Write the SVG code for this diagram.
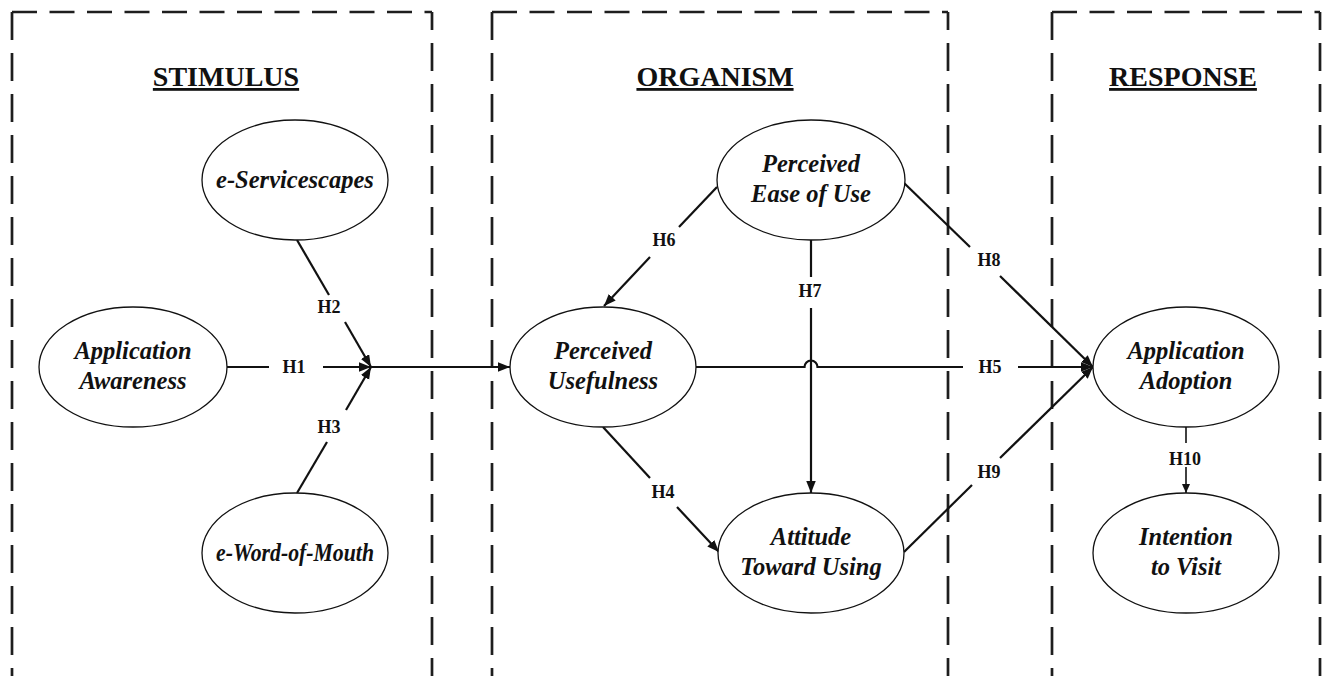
<svg xmlns="http://www.w3.org/2000/svg" width="1328" height="676" viewBox="0 0 1328 676">
  <style>
    .frame-h { stroke: #1e1e1e; stroke-width: 2.7; stroke-dasharray: 25 12.5; fill: none; }
    .frame-v { stroke: #1e1e1e; stroke-width: 2.7; stroke-dasharray: 28 13; fill: none; }
    .title { font-family: "Liberation Serif", "Times New Roman", serif; font-weight: bold; font-size: 28px; text-anchor: middle; text-decoration: underline; fill: #111; }
    .node ellipse { fill: #fff; stroke: #111; stroke-width: 1.3; }
    .node text { font-family: "Liberation Serif", "Times New Roman", serif; font-weight: bold; font-style: italic; font-size: 24.5px; text-anchor: middle; fill: #111; }
    .edge { stroke: #111; stroke-width: 2.2; fill: none; }
    .edge-thin { stroke: #111; stroke-width: 1.6; fill: none; }
    .lbl { font-family: "Liberation Serif", "Times New Roman", serif; font-weight: bold; font-size: 18px; text-anchor: middle; fill: #111; }
  </style>
  <defs>
    <marker id="arrow" markerUnits="userSpaceOnUse" markerWidth="13" markerHeight="10" refX="12" refY="4.75" orient="auto">
      <path d="M0,0 L12,4.75 L0,9.5 Z" fill="#111"/>
    </marker>
    <marker id="arrow-sm" markerUnits="userSpaceOnUse" markerWidth="10" markerHeight="9" refX="9" refY="4" orient="auto">
      <path d="M0,0 L9,4 L0,8 Z" fill="#111"/>
    </marker>
  </defs>

  <rect width="1328" height="676" fill="#fff"/>

  <!-- Dashed stage frames (open at the bottom) -->
  <g id="frame-stimulus">
    <path class="frame-h" d="M12,12 H432"/>
    <path class="frame-v" d="M12,12 V676"/>
    <path class="frame-v" d="M432,12 V676" style="stroke-dashoffset:10"/>
    <text class="title" x="226" y="86">STIMULUS</text>
  </g>
  <g id="frame-organism">
    <path class="frame-h" d="M492,12 H948"/>
    <path class="frame-v" d="M492,12 V676"/>
    <path class="frame-v" d="M948,12 V676" style="stroke-dashoffset:10"/>
    <text class="title" x="715" y="86">ORGANISM</text>
  </g>
  <g id="frame-response">
    <path class="frame-h" d="M1052,12 H1320"/>
    <path class="frame-v" d="M1052,12 V676"/>
    <path class="frame-v" d="M1320,12 V676" style="stroke-dashoffset:10"/>
    <text class="title" x="1183" y="86">RESPONSE</text>
  </g>

  <!-- Connectors -->
  <g id="connectors">
    <!-- H1 -->
    <path class="edge" d="M226,367 H269"/>
    <path class="edge" d="M323,367 H371" marker-end="url(#arrow)"/>
    <!-- H2 -->
    <path class="edge" d="M297,240 L329,295"/>
    <path class="edge" d="M345,322 L371,367" marker-end="url(#arrow)"/>
    <!-- H3 -->
    <path class="edge" d="M297,493 L327,442"/>
    <path class="edge" d="M346,410 L371,367" marker-end="url(#arrow)"/>
    <!-- joint path into Perceived Usefulness -->
    <path class="edge" d="M371,367 H510" marker-end="url(#arrow)"/>
    <!-- H6 -->
    <path class="edge" d="M717,187 L679,227"/>
    <path class="edge" d="M650,257 L604,306" marker-end="url(#arrow)"/>
    <!-- H4 -->
    <path class="edge" d="M603,427 L650,478"/>
    <path class="edge" d="M677,507 L719,552" marker-end="url(#arrow)"/>
    <!-- H7 -->
    <path class="edge" d="M811,240 V277"/>
    <path class="edge" d="M811,308 V493" marker-end="url(#arrow)"/>
    <!-- H5, hopping over H7 -->
    <path class="edge" d="M696,367 H804.5 A6.5,6.5 0 0 1 817.5,367 H963"/>
    <path class="edge" d="M1018,367 H1093" marker-end="url(#arrow)"/>
    <!-- H8 -->
    <path class="edge" d="M903,182 L970,247"/>
    <path class="edge" d="M1000,276 L1093,367" marker-end="url(#arrow)"/>
    <!-- H9 -->
    <path class="edge" d="M904,552 L972,485"/>
    <path class="edge" d="M1000,458 L1093,367" marker-end="url(#arrow)"/>
    <!-- H10 -->
    <path class="edge-thin" d="M1186,427 V443"/>
    <path class="edge-thin" d="M1186,467 V493" marker-end="url(#arrow-sm)"/>

    <text class="lbl" x="294" y="373">H1</text>
    <text class="lbl" x="329" y="313">H2</text>
    <text class="lbl" x="329" y="433">H3</text>
    <text class="lbl" x="663" y="498">H4</text>
    <text class="lbl" x="990" y="373">H5</text>
    <text class="lbl" x="664" y="246">H6</text>
    <text class="lbl" x="810" y="297">H7</text>
    <text class="lbl" x="989" y="266">H8</text>
    <text class="lbl" x="989" y="478">H9</text>
    <text class="lbl" x="1185" y="465">H10</text>
  </g>

  <!-- Constructs -->
  <g id="e-servicescapes" class="node">
    <ellipse cx="295" cy="180" rx="93" ry="60"/>
    <text x="295" y="188">e-Servicescapes</text>
  </g>
  <g id="application-awareness" class="node">
    <ellipse cx="133" cy="367" rx="94" ry="60"/>
    <text x="133" y="359">Application</text>
    <text x="133" y="389">Awareness</text>
  </g>
  <g id="e-word-of-mouth" class="node">
    <ellipse cx="295" cy="553" rx="93" ry="60"/>
    <text x="295" y="561" textLength="158" lengthAdjust="spacingAndGlyphs">e-Word-of-Mouth</text>
  </g>
  <g id="perceived-ease-of-use" class="node">
    <ellipse cx="811" cy="180" rx="94" ry="60"/>
    <text x="811" y="172">Perceived</text>
    <text x="811" y="202">Ease of Use</text>
  </g>
  <g id="perceived-usefulness" class="node">
    <ellipse cx="603" cy="367" rx="93" ry="60"/>
    <text x="603" y="359">Perceived</text>
    <text x="603" y="389">Usefulness</text>
  </g>
  <g id="attitude-toward-using" class="node">
    <ellipse cx="811" cy="553" rx="93" ry="60"/>
    <text x="811" y="545">Attitude</text>
    <text x="811" y="575">Toward Using</text>
  </g>
  <g id="application-adoption" class="node">
    <ellipse cx="1186" cy="367" rx="93" ry="60"/>
    <text x="1186" y="359">Application</text>
    <text x="1186" y="389">Adoption</text>
  </g>
  <g id="intention-to-visit" class="node">
    <ellipse cx="1186" cy="553" rx="93" ry="60"/>
    <text x="1186" y="545">Intention</text>
    <text x="1186" y="575">to Visit</text>
  </g>
</svg>
